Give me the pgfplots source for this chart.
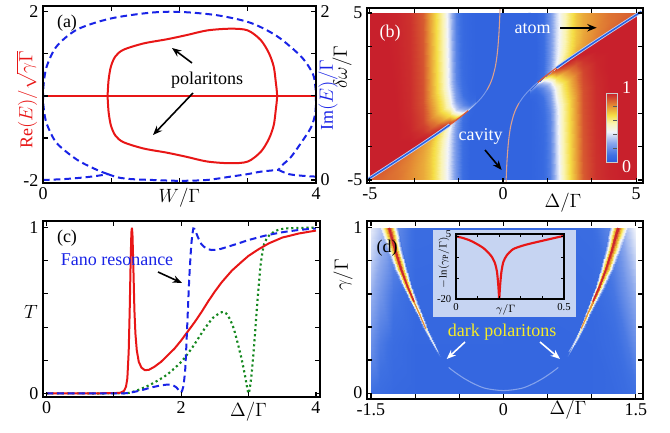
\documentclass[border=0pt]{standalone}
\usepackage{fontspec}
\setmainfont{Liberation Serif}
\usepackage{pgfplots}
\pgfplotsset{compat=1.18}
\usetikzlibrary{arrows.meta}
\definecolor{cR}{RGB}{232,22,22}
\definecolor{cB}{RGB}{25,35,230}
\definecolor{cG}{RGB}{20,135,30}
\definecolor{cY}{RGB}{245,235,40}
\definecolor{inbg}{RGB}{198,212,242}
\definecolor{halo}{RGB}{190,210,245}
\definecolor{core}{RGB}{40,95,225}
\definecolor{cav}{RGB}{222,160,140}
\definecolor{trans}{RGB}{220,90,55}
\definecolor{hblue}{RGB}{50,100,223}
\definecolor{dred}{RGB}{205,40,45}
\definecolor{dorange}{RGB}{228,140,60}
\newcommand{\fs}{\rmfamily\fontsize{13.5}{15}\selectfont}
\newcommand{\fsi}{\rmfamily\fontsize{8}{9}\selectfont}
\pgfplotsset{
 tcmap/.style={colormap={tc}{rgb255(0pt)=(45,95,222); rgb255(10pt)=(62,112,226); rgb255(28pt)=(140,168,236); rgb255(44pt)=(242,244,250); rgb255(56pt)=(250,244,180); rgb255(68pt)=(245,222,70); rgb255(82pt)=(228,140,52); rgb255(100pt)=(200,32,44)}},
 panel/.style={scale only axis, anchor=south west, axis line style={line width=1.4pt}, every tick/.style={black, line width=0.8pt}, major tick length=3.5pt, tick align=inside, tick label style={font=\fs}, /pgf/number format/assume math mode=true, clip mode=individual, axis on top},
}
\tikzset{arr/.style={-{Stealth[length=7pt,width=5.5pt]}, line width=1.2pt}}
\begin{document}
\begin{tikzpicture}
\path[use as bounding box] (0,0) rectangle (502.5pt,324pt);
% ---------------- (a)
\begin{axis}[panel, at={(32.25pt,186.75pt)}, width=204.75pt, height=132.75pt,
 xmin=0, xmax=4, ymin=-2.07, ymax=2.14, xtick={0,1,2,3,4}, xticklabels={0,,$W/\Gamma$,,4},
 ytick={-2,-1,0,1,2}, yticklabels={-2,,,,2}, ytick pos=left]
\addplot[cR, line width=1.5pt] coordinates {(0,0) (4,0)};
\addplot[cR, line width=1.5pt, smooth, tension=0.5] coordinates {
(0.946,0) (0.961,0.38) (0.995,0.70) (1.06,0.94) (1.18,1.10) (1.475,1.25) (1.82,1.35) (2.11,1.45) (2.41,1.56) (2.75,1.60) (3.0,1.56) (3.19,1.33) (3.31,1.02) (3.38,0.70) (3.41,0.34) (3.43,0) (3.41,-0.34) (3.38,-0.70) (3.31,-1.02) (3.19,-1.33) (3.0,-1.56) (2.75,-1.60) (2.41,-1.56) (2.11,-1.45) (1.82,-1.35) (1.475,-1.25) (1.18,-1.10) (1.06,-0.94) (0.995,-0.70) (0.961,-0.38) (0.946,0)};
\end{axis}
\begin{axis}[panel, at={(32.25pt,186.75pt)}, width=204.75pt, height=132.75pt,
 xmin=0, xmax=4, ymin=-0.036, ymax=2.07, xtick=\empty,
 ytick={0,0.5,1,1.5,2}, yticklabels={0,,,,2}, ytick pos=right, yticklabel pos=right]
\addplot[cB, line width=1.5pt, dash pattern=on 5pt off 3pt, smooth, tension=0.5] coordinates {
(0.95,0.07) (0.79,0.12) (0.5,0.24) (0.2,0.44) (0.054,0.67) (0.011,0.85) (0,1.0) (0.011,1.15) (0.054,1.35) (0.2,1.59) (0.5,1.79) (0.985,1.92) (1.57,1.99) (2.0,2.0) (2.55,1.96) (3.04,1.87) (3.43,1.71) (3.78,1.47) (3.95,1.27) (3.99,1.12) (4.0,1.0) (3.99,0.8) (3.93,0.63) (3.78,0.44) (3.63,0.27) (3.51,0.18) (3.45,0.12)};
\addplot[cB, line width=1.5pt, dash pattern=on 5pt off 3pt, smooth, tension=0.5] coordinates {
(0,0) (0.3,0.01) (0.6,0.03) (0.8,0.05) (0.95,0.07)};
\addplot[cB, line width=1.5pt, dash pattern=on 5pt off 3pt, smooth, tension=0.5] coordinates {
(0.95,0.07) (1.1,0.03) (1.3,0.01) (1.6,0.0) (2.0,-0.01) (2.4,0.0) (2.75,0.04) (3.0,0.07) (3.2,0.1) (3.45,0.12)};
\addplot[cB, line width=1.5pt, dash pattern=on 5pt off 3pt, smooth, tension=0.5] coordinates {
(3.45,0.12) (3.6,0.07) (3.8,0.05) (4,0.04)};
\end{axis}
% ---------------- (b)
\begin{axis}[panel, tcmap, at={(275.25pt,186.75pt)}, width=207pt, height=131.25pt,
 xmin=-5.11, xmax=5.26, ymin=-5.18, ymax=5.3, point meta min=0, point meta max=1,
 xtick={-5,-3.3333,-1.6667,0,1.6667,3.3333,5}, xticklabels={-5,,,0,,,5},
 ytick={-5,-3,-1,1,3,5}, yticklabels={-5,,,,,5}]
% region A (above left branch)
\addplot[surf, shader=interp, mesh/cols=7, point meta=explicit] coordinates {
(-5,-4.88)[1] (-5,-4.8)[1] (-5,-4.63)[1] (-5,-4.28)[1] (-5,-3.68)[1] (-5,-2.38)[1] (-5,5)[1]
(-4.5,-4.367)[1] (-4.5,-4.287)[1] (-4.5,-4.117)[1] (-4.5,-3.767)[1] (-4.5,-3.167)[1] (-4.5,-1.867)[1] (-4.5,5)[1]
(-4,-3.85)[1] (-4,-3.77)[1] (-4,-3.6)[1] (-4,-3.25)[1] (-4,-2.65)[1] (-4,-1.35)[1] (-4,5)[0.99]
(-3.5,-3.329)[1] (-3.5,-3.249)[1] (-3.5,-3.079)[1] (-3.5,-2.729)[1] (-3.5,-2.129)[0.99] (-3.5,-0.829)[0.98] (-3.5,5)[0.97]
(-3,-2.8)[1] (-3,-2.72)[1] (-3,-2.55)[1] (-3,-2.2)[0.97] (-3,-1.6)[0.94] (-3,-0.3)[0.92] (-3,5)[0.9]
(-2.75,-2.532)[1] (-2.75,-2.452)[1] (-2.75,-2.282)[0.98] (-2.75,-1.932)[0.92] (-2.75,-1.332)[0.85] (-2.75,-0.032)[0.8] (-2.75,5)[0.78]
(-2.5,-2.26)[1] (-2.5,-2.18)[1] (-2.5,-2.01)[0.96] (-2.5,-1.66)[0.86] (-2.5,-1.06)[0.76] (-2.5,0.24)[0.7] (-2.5,5)[0.68]
(-2.25,-1.983)[0.98] (-2.25,-1.903)[0.98] (-2.25,-1.733)[0.92] (-2.25,-1.383)[0.78] (-2.25,-0.783)[0.65] (-2.25,0.517)[0.57] (-2.25,5)[0.55]
(-2,-1.7)[0.95] (-2,-1.62)[0.95] (-2,-1.45)[0.86] (-2,-1.1)[0.66] (-2,-0.5)[0.48] (-2,0.8)[0.38] (-2,5)[0.35]
(-1.75,-1.407)[0.8] (-1.75,-1.327)[0.8] (-1.75,-1.157)[0.62] (-1.75,-0.807)[0.38] (-1.75,-0.207)[0.25] (-1.75,1.093)[0.17] (-1.75,5)[0.15]
(-1.5,-1.1)[0.6] (-1.5,-1.02)[0.58] (-1.5,-0.85)[0.35] (-1.5,-0.5)[0.18] (-1.5,0.1)[0.1] (-1.5,1.4)[0.07] (-1.5,5)[0.06]
(-1.25,-0.77)[0.3] (-1.25,-0.69)[0.28] (-1.25,-0.52)[0.12] (-1.25,-0.17)[0.06] (-1.25,0.43)[0.04] (-1.25,1.73)[0.04] (-1.25,5)[0.04]
(-1,-0.4)[0.2] (-1,-0.32)[0.15] (-1,-0.15)[0.06] (-1,0.2)[0.03] (-1,0.8)[0.03] (-1,2.1)[0.03] (-1,5)[0.03]
};
% region B (below left branch)
\addplot[surf, shader=interp, mesh/cols=7, point meta=explicit] coordinates {
(-5,-4.88)[0.92] (-5,-4.96)[0.91] (-5,-5)[0.9] (-5,-5)[0.9] (-5,-5)[0.9] (-5,-5)[0.9] (-5,-5)[0.9]
(-4.5,-4.367)[0.9] (-4.5,-4.447)[0.9] (-4.5,-4.617)[0.89] (-4.5,-4.967)[0.88] (-4.5,-5)[0.88] (-4.5,-5)[0.88] (-4.5,-5)[0.88]
(-4,-3.85)[0.88] (-4,-3.93)[0.88] (-4,-4.1)[0.87] (-4,-4.45)[0.86] (-4,-5)[0.86] (-4,-5)[0.86] (-4,-5)[0.86]
(-3.5,-3.329)[0.85] (-3.5,-3.409)[0.85] (-3.5,-3.579)[0.84] (-3.5,-3.929)[0.83] (-3.5,-4.529)[0.82] (-3.5,-5)[0.82] (-3.5,-5)[0.82]
(-3,-2.8)[0.8] (-3,-2.88)[0.8] (-3,-3.05)[0.79] (-3,-3.4)[0.78] (-3,-4)[0.77] (-3,-5)[0.77] (-3,-5)[0.77]
(-2.75,-2.532)[0.76] (-2.75,-2.612)[0.76] (-2.75,-2.782)[0.75] (-2.75,-3.132)[0.73] (-2.75,-3.732)[0.72] (-2.75,-5)[0.72] (-2.75,-5)[0.72]
(-2.5,-2.26)[0.7] (-2.5,-2.34)[0.7] (-2.5,-2.51)[0.68] (-2.5,-2.86)[0.66] (-2.5,-3.46)[0.65] (-2.5,-4.76)[0.64] (-2.5,-5)[0.64]
(-2.25,-1.983)[0.6] (-2.25,-2.063)[0.6] (-2.25,-2.233)[0.58] (-2.25,-2.583)[0.55] (-2.25,-3.183)[0.53] (-2.25,-4.483)[0.52] (-2.25,-5)[0.52]
(-2,-1.7)[0.46] (-2,-1.78)[0.45] (-2,-1.95)[0.43] (-2,-2.3)[0.4] (-2,-2.9)[0.39] (-2,-4.2)[0.38] (-2,-5)[0.38]
(-1.75,-1.407)[0.28] (-1.75,-1.487)[0.27] (-1.75,-1.657)[0.25] (-1.75,-2.007)[0.23] (-1.75,-2.607)[0.22] (-1.75,-3.907)[0.22] (-1.75,-5)[0.22]
(-1.5,-1.1)[0.1] (-1.5,-1.18)[0.1] (-1.5,-1.35)[0.09] (-1.5,-1.7)[0.08] (-1.5,-2.3)[0.08] (-1.5,-3.6)[0.08] (-1.5,-5)[0.08]
(-1.25,-0.77)[0.04] (-1.25,-0.85)[0.04] (-1.25,-1.02)[0.04] (-1.25,-1.37)[0.03] (-1.25,-1.97)[0.03] (-1.25,-3.27)[0.03] (-1.25,-5)[0.03]
(-1,-0.4)[0.03] (-1,-0.48)[0.03] (-1,-0.65)[0.03] (-1,-1)[0.03] (-1,-1.6)[0.03] (-1,-2.9)[0.03] (-1,-5)[0.03]
};
% region D (below right branch)
\addplot[surf, shader=interp, mesh/cols=7, point meta=explicit] coordinates {
(5,4.88)[1] (5,4.8)[1] (5,4.63)[1] (5,4.28)[1] (5,3.68)[1] (5,2.38)[1] (5,-5)[1]
(4.5,4.367)[1] (4.5,4.287)[1] (4.5,4.117)[1] (4.5,3.767)[1] (4.5,3.167)[1] (4.5,1.867)[1] (4.5,-5)[1]
(4,3.85)[1] (4,3.77)[1] (4,3.6)[1] (4,3.25)[1] (4,2.65)[1] (4,1.35)[1] (4,-5)[0.99]
(3.5,3.329)[1] (3.5,3.249)[1] (3.5,3.079)[1] (3.5,2.729)[1] (3.5,2.129)[0.99] (3.5,0.829)[0.98] (3.5,-5)[0.97]
(3,2.8)[1] (3,2.72)[1] (3,2.55)[1] (3,2.2)[0.97] (3,1.6)[0.94] (3,0.3)[0.92] (3,-5)[0.9]
(2.75,2.532)[1] (2.75,2.452)[1] (2.75,2.282)[0.98] (2.75,1.932)[0.92] (2.75,1.332)[0.85] (2.75,0.032)[0.8] (2.75,-5)[0.78]
(2.5,2.26)[1] (2.5,2.18)[1] (2.5,2.01)[0.96] (2.5,1.66)[0.86] (2.5,1.06)[0.76] (2.5,-0.24)[0.7] (2.5,-5)[0.68]
(2.25,1.983)[0.98] (2.25,1.903)[0.98] (2.25,1.733)[0.92] (2.25,1.383)[0.78] (2.25,0.783)[0.65] (2.25,-0.517)[0.57] (2.25,-5)[0.55]
(2,1.7)[0.95] (2,1.62)[0.95] (2,1.45)[0.86] (2,1.1)[0.66] (2,0.5)[0.48] (2,-0.8)[0.38] (2,-5)[0.35]
(1.75,1.407)[0.8] (1.75,1.327)[0.8] (1.75,1.157)[0.62] (1.75,0.807)[0.38] (1.75,0.207)[0.25] (1.75,-1.093)[0.17] (1.75,-5)[0.15]
(1.5,1.1)[0.6] (1.5,1.02)[0.58] (1.5,0.85)[0.35] (1.5,0.5)[0.18] (1.5,-0.1)[0.1] (1.5,-1.4)[0.07] (1.5,-5)[0.06]
(1.25,0.77)[0.3] (1.25,0.69)[0.28] (1.25,0.52)[0.12] (1.25,0.17)[0.06] (1.25,-0.43)[0.04] (1.25,-1.73)[0.04] (1.25,-5)[0.04]
(1,0.4)[0.2] (1,0.32)[0.15] (1,0.15)[0.06] (1,-0.2)[0.03] (1,-0.8)[0.03] (1,-2.1)[0.03] (1,-5)[0.03]
};
% region C (above right branch)
\addplot[surf, shader=interp, mesh/cols=7, point meta=explicit] coordinates {
(5,4.88)[0.92] (5,4.96)[0.91] (5,5)[0.9] (5,5)[0.9] (5,5)[0.9] (5,5)[0.9] (5,5)[0.9]
(4.5,4.367)[0.9] (4.5,4.447)[0.9] (4.5,4.617)[0.89] (4.5,4.967)[0.88] (4.5,5)[0.88] (4.5,5)[0.88] (4.5,5)[0.88]
(4,3.85)[0.88] (4,3.93)[0.88] (4,4.1)[0.87] (4,4.45)[0.86] (4,5)[0.86] (4,5)[0.86] (4,5)[0.86]
(3.5,3.329)[0.85] (3.5,3.409)[0.85] (3.5,3.579)[0.84] (3.5,3.929)[0.83] (3.5,4.529)[0.82] (3.5,5)[0.82] (3.5,5)[0.82]
(3,2.8)[0.8] (3,2.88)[0.8] (3,3.05)[0.79] (3,3.4)[0.78] (3,4)[0.77] (3,5)[0.77] (3,5)[0.77]
(2.75,2.532)[0.76] (2.75,2.612)[0.76] (2.75,2.782)[0.75] (2.75,3.132)[0.73] (2.75,3.732)[0.72] (2.75,5)[0.72] (2.75,5)[0.72]
(2.5,2.26)[0.7] (2.5,2.34)[0.7] (2.5,2.51)[0.68] (2.5,2.86)[0.66] (2.5,3.46)[0.65] (2.5,4.76)[0.64] (2.5,5)[0.64]
(2.25,1.983)[0.6] (2.25,2.063)[0.6] (2.25,2.233)[0.58] (2.25,2.583)[0.55] (2.25,3.183)[0.53] (2.25,4.483)[0.52] (2.25,5)[0.52]
(2,1.7)[0.46] (2,1.78)[0.45] (2,1.95)[0.43] (2,2.3)[0.4] (2,2.9)[0.39] (2,4.2)[0.38] (2,5)[0.38]
(1.75,1.407)[0.28] (1.75,1.487)[0.27] (1.75,1.657)[0.25] (1.75,2.007)[0.23] (1.75,2.607)[0.22] (1.75,3.907)[0.22] (1.75,5)[0.22]
(1.5,1.1)[0.1] (1.5,1.18)[0.1] (1.5,1.35)[0.09] (1.5,1.7)[0.08] (1.5,2.3)[0.08] (1.5,3.6)[0.08] (1.5,5)[0.08]
(1.25,0.77)[0.04] (1.25,0.85)[0.04] (1.25,1.02)[0.04] (1.25,1.37)[0.03] (1.25,1.97)[0.03] (1.25,3.27)[0.03] (1.25,5)[0.03]
(1,0.4)[0.03] (1,0.48)[0.03] (1,0.65)[0.03] (1,1)[0.03] (1,1.6)[0.03] (1,2.9)[0.03] (1,5)[0.03]
};
% uniform centre (T close to 0)
\addplot[fill=hblue, draw=none] coordinates {(-1.01,-5) (1.01,-5) (1.01,5) (-1.01,5) (-1.01,-5)} --cycle;
\addplot[fill=hblue, draw=none] coordinates {(-1.05,-5) (-0.95,-5) (-0.95,-0.6) (-1.05,-0.6) (-1.05,-5)};
\addplot[fill=hblue, draw=none] coordinates {(1.05,5) (0.95,5) (0.95,0.6) (1.05,0.6) (1.05,5)};
% branch lines
\addplot[halo, line width=2.4pt] coordinates {(-5.2,-5.085) (-4.5,-4.367) (-4,-3.85) (-3.5,-3.329) (-3,-2.8) (-2.5,-2.26) (-2.25,-1.983) (-2,-1.7)};
\addplot[core, line width=1.1pt] coordinates {(-5.2,-5.085) (-4.5,-4.367) (-4,-3.85) (-3.5,-3.329) (-3,-2.8) (-2.5,-2.26) (-2.25,-1.983) (-2,-1.7)};
\addplot[halo, line width=2.4pt] coordinates {(5.2,5.085) (4.5,4.367) (4,3.85) (3.5,3.329) (3,2.8) (2.5,2.26) (2.25,1.983) (2,1.7)};
\addplot[core, line width=1.1pt] coordinates {(5.2,5.085) (4.5,4.367) (4,3.85) (3.5,3.329) (3,2.8) (2.5,2.26) (2.25,1.983) (2,1.7)};
\addplot[trans, line width=0.9pt, smooth] coordinates {(-2,-1.7) (-1.75,-1.407) (-1.5,-1.1) (-1.3,-0.838)};
\addplot[trans, line width=0.9pt, smooth] coordinates {(2,1.7) (1.75,1.407) (1.5,1.1) (1.3,0.838)};
\addplot[white, opacity=0.35, line width=0.7pt, smooth] coordinates {(-1.3,-0.838) (-1.1,-0.555) (-0.9,-0.233) (-0.75,0.05) (-0.6,0.4)};
\addplot[white, opacity=0.35, line width=0.7pt, smooth] coordinates {(1.3,0.838) (1.1,0.555) (0.9,0.233) (0.75,-0.05) (0.6,-0.4)};
\addplot[cav, line width=0.8pt, smooth] coordinates {(-0.6,0.4) (-0.5,0.7) (-0.4,1.1) (-0.3,1.7) (-0.25,2.15) (-0.2,2.8) (-0.15,3.85) (-0.12,4.88) (-0.11,5.34)};
\addplot[cav, line width=0.8pt, smooth] coordinates {(0.6,-0.4) (0.5,-0.7) (0.4,-1.1) (0.3,-1.7) (0.25,-2.15) (0.2,-2.8) (0.15,-3.85) (0.12,-4.88) (0.11,-5.34)};
\end{axis}
% colorbar of (b)
\begin{axis}[tcmap, at={(454.5pt,202.5pt)}, anchor=south west, scale only axis, width=8.25pt, height=51.75pt,
 xmin=0, xmax=1, ymin=0, ymax=1, point meta min=0, point meta max=1, xtick=\empty,
 ytick={0.2,0.4,0.6,0.8}, yticklabels=\empty, ytick pos=right, tick align=inside,
 major tick length=3pt, every tick/.style={black!65, line width=0.7pt},
 axis line style={white!80!black, line width=0.7pt}, axis on top]
\addplot[surf, shader=interp, mesh/cols=2, point meta=explicit] coordinates {(0,0)[0] (0,1)[1] (0.5,0)[0] (0.5,1)[1] (1,0)[0] (1,1)[1]};
\end{axis}
\node[font=\fs, text=white, anchor=west] at (463pt,258pt) {1};
\node[font=\fs, text=white, anchor=west] at (463pt,199pt) {0};
% ---------------- (c)
\begin{axis}[panel, at={(32.25pt,26.25pt)}, width=207.75pt, height=132pt,
 xmin=-0.052, xmax=4.06, ymin=-0.022, ymax=1.04, xtick={0,1,2,3,4}, xticklabels={0,,2,$\Delta/\Gamma$,4},
 ytick={0,0.2,0.4,0.6,0.8,1}, yticklabels={0,,,,,1}]
\addplot[cG, line width=1.6pt, dash pattern=on 1.6pt off 2.2pt, smooth, tension=0.4] coordinates {
(0,0) (1.1,0) (1.29,0.01) (1.53,0.05) (1.78,0.11) (2.0,0.19) (2.17,0.28) (2.33,0.38) (2.47,0.455) (2.6,0.49) (2.66,0.485) (2.72,0.45) (2.78,0.39) (2.84,0.3) (2.9,0.2) (2.95,0.1) (3.0,0.0) (3.04,0.1) (3.08,0.28) (3.13,0.55) (3.18,0.78) (3.23,0.9) (3.3,0.95) (3.4,0.98) (3.55,0.995) (4.0,1.0)};
\addplot[cR, line width=1.5pt] coordinates {
(0,0) (0.5,0) (1.0,0.001) (1.1,0.004) (1.15,0.015) (1.18,0.04) (1.2,0.09) (1.22,0.25) (1.235,0.5) (1.25,0.82) (1.26,0.97) (1.268,1) (1.276,0.96) (1.29,0.75) (1.305,0.5) (1.32,0.36) (1.34,0.26) (1.37,0.19) (1.41,0.155) (1.46,0.14) (1.52,0.142) (1.6,0.16) (1.7,0.19) (1.8,0.23) (1.9,0.27) (2.0,0.32) (2.1,0.375) (2.2,0.43) (2.3,0.49) (2.4,0.555) (2.5,0.615) (2.6,0.67) (2.75,0.74) (2.9,0.795) (3.0,0.83) (3.15,0.87) (3.3,0.905) (3.5,0.94) (3.75,0.965) (4.0,0.982)};
\addplot[cB, line width=1.5pt, dash pattern=on 5pt off 3pt, smooth, tension=0.4] coordinates {
(0,0) (1.1,0) (1.25,0.005) (1.4,0.018) (1.55,0.035) (1.7,0.048) (1.8,0.053) (1.87,0.05) (1.93,0.035) (1.97,0.015) (2.0,0.005) (2.03,0.04) (2.06,0.15) (2.09,0.42) (2.12,0.7) (2.15,0.9) (2.18,0.995) (2.21,0.98) (2.25,0.94) (2.3,0.9) (2.37,0.875) (2.45,0.865) (2.55,0.868) (2.67,0.882) (2.85,0.905) (3.0,0.925) (3.25,0.952) (3.5,0.972) (3.75,0.986) (4.0,0.995)};
\end{axis}
% ---------------- (d)
\begin{axis}[panel, tcmap, at={(275.25pt,24.75pt)}, width=207pt, height=133.5pt,
 xmin=-1.545, xmax=1.58, ymin=-0.036, ymax=1.042, point meta min=0, point meta max=1,
 xtick={-1.5,-1,-0.5,0,0.5,1,1.5}, xticklabels={-1.5,,,0,,,1.5},
 ytick={0,0.2,0.4,0.6,0.8,1}, yticklabels={0,,,,,1}]
\addplot[surf, shader=interp, mesh/cols=4, point meta=explicit] coordinates {
(-1.5,0)[0.1] (-1.5,0.3)[0.2] (-1.5,0.6)[0.3] (-1.5,1)[0.42]
(-1.4,0)[0.08] (-1.4,0.3)[0.13] (-1.4,0.6)[0.22] (-1.4,1)[0.35]
(-1.25,0)[0.06] (-1.25,0.3)[0.08] (-1.25,0.6)[0.12] (-1.25,1)[0.2]
(-1,0)[0.05] (-1,0.3)[0.05] (-1,0.6)[0.06] (-1,1)[0.08]
(0,0)[0.05] (0,0.3)[0.05] (0,0.6)[0.05] (0,1)[0.05]
(1,0)[0.05] (1,0.3)[0.05] (1,0.6)[0.06] (1,1)[0.08]
(1.25,0)[0.06] (1.25,0.3)[0.08] (1.25,0.6)[0.12] (1.25,1)[0.2]
(1.4,0)[0.08] (1.4,0.3)[0.13] (1.4,0.6)[0.22] (1.4,1)[0.35]
(1.5,0)[0.1] (1.5,0.3)[0.2] (1.5,0.6)[0.3] (1.5,1)[0.45]
};
\addplot[surf, shader=interp, mesh/cols=5, point meta=explicit] coordinates {
(-1.4,1)[0.36] (-1.33,1)[0.75] (-1.296,1)[1] (-1.262,1)[0.75] (-1.19,1)[0.16]
(-1.315,0.87)[0.27] (-1.258,0.87)[0.72] (-1.23,0.87)[0.98] (-1.202,0.87)[0.72] (-1.145,0.87)[0.12]
(-1.235,0.756)[0.2] (-1.19,0.756)[0.7] (-1.165,0.756)[0.95] (-1.14,0.756)[0.7] (-1.095,0.756)[0.09]
(-1.145,0.65)[0.14] (-1.11,0.65)[0.65] (-1.09,0.65)[0.9] (-1.07,0.65)[0.65] (-1.035,0.65)[0.07]
(-1.058,0.553)[0.1] (-1.03,0.553)[0.55] (-1.013,0.553)[0.82] (-0.996,0.553)[0.55] (-0.968,0.553)[0.06]
(-0.983,0.47)[0.08] (-0.958,0.47)[0.45] (-0.945,0.47)[0.7] (-0.932,0.47)[0.45] (-0.907,0.47)[0.06]
(-0.91,0.39)[0.07] (-0.89,0.39)[0.35] (-0.88,0.39)[0.58] (-0.87,0.39)[0.35] (-0.85,0.39)[0.06]
(-0.81,0.29)[0.06] (-0.795,0.29)[0.22] (-0.787,0.29)[0.42] (-0.779,0.29)[0.22] (-0.764,0.29)[0.06]
(-0.725,0.22)[0.05] (-0.715,0.22)[0.06] (-0.71,0.22)[0.08] (-0.705,0.22)[0.06] (-0.695,0.22)[0.05]
};
\addplot[surf, shader=interp, mesh/cols=5, point meta=explicit] coordinates {
(1.4,1)[0.38] (1.33,1)[0.75] (1.296,1)[1] (1.262,1)[0.75] (1.19,1)[0.16]
(1.315,0.87)[0.3] (1.258,0.87)[0.72] (1.23,0.87)[0.98] (1.202,0.87)[0.72] (1.145,0.87)[0.12]
(1.235,0.756)[0.22] (1.19,0.756)[0.7] (1.165,0.756)[0.95] (1.14,0.756)[0.7] (1.095,0.756)[0.09]
(1.145,0.65)[0.15] (1.11,0.65)[0.65] (1.09,0.65)[0.9] (1.07,0.65)[0.65] (1.035,0.65)[0.07]
(1.058,0.553)[0.1] (1.03,0.553)[0.55] (1.013,0.553)[0.82] (0.996,0.553)[0.55] (0.968,0.553)[0.06]
(0.983,0.47)[0.08] (0.958,0.47)[0.45] (0.945,0.47)[0.7] (0.932,0.47)[0.45] (0.907,0.47)[0.06]
(0.91,0.39)[0.07] (0.89,0.39)[0.35] (0.88,0.39)[0.58] (0.87,0.39)[0.35] (0.85,0.39)[0.06]
(0.81,0.29)[0.06] (0.795,0.29)[0.22] (0.787,0.29)[0.42] (0.779,0.29)[0.22] (0.764,0.29)[0.06]
(0.725,0.22)[0.05] (0.715,0.22)[0.06] (0.71,0.22)[0.08] (0.705,0.22)[0.06] (0.695,0.22)[0.05]
};
\addplot[dred, line width=1.3pt] coordinates {(-1.296,1) (-1.23,0.87) (-1.165,0.756) (-1.09,0.65) (-1.013,0.553)};
\addplot[dorange, line width=0.8pt] coordinates {(-1.013,0.553) (-0.945,0.47) (-0.88,0.39)};
\addplot[dred, line width=1.3pt] coordinates {(1.296,1) (1.23,0.87) (1.165,0.756) (1.09,0.65) (1.013,0.553)};
\addplot[dorange, line width=0.8pt] coordinates {(1.013,0.553) (0.945,0.47) (0.88,0.39)};
\addplot[white, opacity=0.45, line width=0.6pt] coordinates {(-0.88,0.39) (-0.787,0.29) (-0.74,0.25)};
\addplot[white, opacity=0.45, line width=0.6pt] coordinates {(0.88,0.39) (0.787,0.29) (0.74,0.25)};
\addplot[white, opacity=0.4, line width=0.8pt, smooth] coordinates {(-0.62,0.155) (-0.56,0.13) (-0.45,0.09) (-0.33,0.055) (-0.2,0.028) (0,0.015) (0.2,0.028) (0.33,0.055) (0.45,0.09) (0.56,0.13) (0.62,0.155)};
\end{axis}
% inset
\fill[inbg] (324.75pt,86.25pt) rectangle (432pt,151.5pt);
\begin{axis}[at={(342pt,99.75pt)}, anchor=south west, scale only axis, width=81pt, height=48.75pt,
 xmin=0, xmax=0.5, ymin=-20, ymax=5, axis line style={line width=1.3pt},
 every tick/.style={black, line width=0.7pt}, major tick length=2.2pt, tick align=inside,
 tick label style={font=\fsi}, /pgf/number format/assume math mode=true,
 xtick={0,0.1,0.2,0.3,0.4,0.5}, xticklabels={0,,,,,0.5},
 ytick={-20,-12,-4,4}, yticklabels={-20,,,}, extra y ticks={5}, extra y tick labels={5},
 extra y tick style={major tick length=0pt}, axis on top]
\addplot[cR, line width=1.6pt, smooth, tension=0.4] coordinates {(0,4.1) (0.03,3.5) (0.058,2.76) (0.08,1.9) (0.104,0.8) (0.125,-0.3) (0.143,-1.6) (0.166,-3.8) (0.181,-6.4) (0.19,-9.7) (0.196,-15) (0.2,-20.5)};
\addplot[cR, line width=1.6pt, smooth, tension=0.4] coordinates {(0.2,-20.5) (0.204,-15) (0.21,-9.7) (0.219,-5.8) (0.235,-3.2) (0.265,-0.8) (0.32,0.8) (0.4,2.4) (0.5,4.3)};
\end{axis}
% annotations
\node[font=\fs] at (50.25pt,306.75pt) {(a)};
\node[font=\fs] at (155.25pt,264pt) {polaritons};
\draw[arr] (144pt,276.75pt) -- (129pt,288pt);
\draw[arr] (144.75pt,254.25pt) -- (114.75pt,222.75pt);
\node[font=\fs, text=cR, rotate=90] at (20.25pt,249pt) {$\mathrm{Re}(E)/\sqrt{\gamma\Gamma}$};
\node[font=\fs, text=cB, rotate=90] at (246pt,252.75pt) {$\mathrm{Im}(E)/\Gamma$};
\node[font=\fs, text=white] at (292.5pt,298.9pt) {(b)};
\node[font=\fs, text=white] at (399.4pt,302.6pt) {atom};
\draw[arr] (420pt,303.2pt) -- (447.5pt,303.2pt);
\node[font=\fs, text=white] at (360.4pt,221.5pt) {cavity};
\draw[arr] (363.75pt,211.5pt) -- (376.3pt,196.5pt);
\node[font=\fs, rotate=90] at (256.5pt,273.75pt) {$\delta\omega/\Gamma$};
\node[font=\fs] at (422.25pt,171.75pt) {$\Delta/\Gamma$};
\node[font=\fs] at (50.25pt,145.5pt) {(c)};
\node[font=\fs, text=cB] at (87.75pt,129pt) {Fano resonance};
\draw[arr] (118.5pt,120pt) -- (136.5pt,111.75pt);
\node[font=\fs] at (23.25pt,90pt) {$T$};
\node[font=\fs] at (290.25pt,138pt) {(d)};
\node[font=\fs, text=cY] at (376.5pt,75pt) {dark polaritons};
\draw[arr, white] (348.75pt,67.5pt) -- (335pt,54.75pt);
\draw[arr, white] (405pt,67.5pt) -- (420pt,54.75pt);
\node[font=\fs, rotate=90] at (257.25pt,117.75pt) {$\gamma/\Gamma$};
\node[font=\fs] at (426pt,16.5pt) {$\Delta/\Gamma$};
\node[font=\fsi, rotate=90] at (333pt,126.75pt) {$-\ln(\gamma_{\mathrm{P}}/\Gamma)$};
\node[font=\fsi] at (379.3pt,91.5pt) {$\gamma/\Gamma$};
\end{tikzpicture}
\end{document}
